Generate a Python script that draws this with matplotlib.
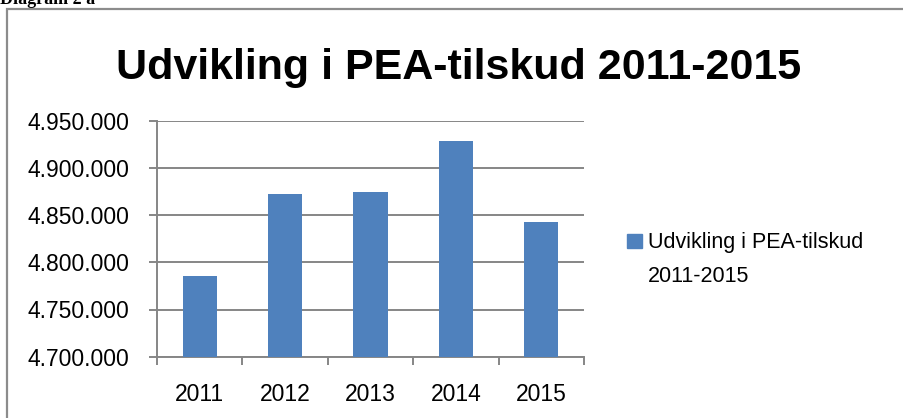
import matplotlib
matplotlib.use('Agg')
import matplotlib.pyplot as plt
from matplotlib.patches import Rectangle
from matplotlib.ticker import FuncFormatter, FixedLocator

# ---- data ----
years = ['2011', '2012', '2013', '2014', '2015']
values = [4785100, 4872700, 4874100, 4928500, 4843000]
y_ticks = [4700000, 4750000, 4800000, 4850000, 4900000, 4950000]
title = 'Udvikling i PEA-tilskud 2011-2015'
legend_lines = ['Udvikling i PEA-tilskud', '2011-2015']
caption = 'Diagram 2 a'

plt.rcParams['font.family'] = ['Liberation Sans', 'DejaVu Sans']

W, H = 904, 418
fig = plt.figure(figsize=(W / 100, H / 100), dpi=100)

def fx(px):
    return px / W

def fy(py):
    return 1 - py / H

# outer chart frame (extends beyond right/bottom edge)
fig.patches.append(Rectangle((fx(7), -0.2), 1.2, fy(8.5) + 0.2,
                             transform=fig.transFigure, fill=False,
                             edgecolor='#8c8c8c', linewidth=1.6))

# caption cut off at top (as in the reference)
fig.text(fx(0), fy(4), caption, fontsize=13, fontweight='bold',
         family=['Liberation Serif'], ha='left', va='baseline')

ax = fig.add_axes([fx(157), fy(356.7), fx(584) - fx(157), fy(120.7) - fy(356.7)])

x = list(range(len(years)))
ax.bar(x, values, width=0.4, color='#4F81BD', zorder=3)

ax.set_xlim(-0.5, len(years) - 0.5)
ax.set_ylim(y_ticks[0], y_ticks[-1])
ax.set_yticks(y_ticks)
ax.yaxis.set_major_formatter(FuncFormatter(lambda v, p: f'{int(v):,}'.replace(',', '.')))
ax.set_xticks(x)
ax.set_xticklabels(years)
ax.xaxis.set_minor_locator(FixedLocator([i - 0.5 for i in range(len(years) + 1)]))

grid_c = '#868686'
ax.grid(axis='y', color=grid_c, linewidth=1.4, zorder=0)
ax.set_axisbelow(True)
for s in ['top', 'right']:
    ax.spines[s].set_visible(False)
for s in ['left', 'bottom']:
    ax.spines[s].set_color(grid_c)
    ax.spines[s].set_linewidth(1.4)

ax.tick_params(axis='y', which='major', length=6, width=1.4, color=grid_c,
               pad=14, labelsize=16.5, direction='out')
ax.tick_params(axis='x', which='major', length=0, pad=19, labelsize=16.5)
ax.tick_params(axis='x', which='minor', length=6, width=1.4, color=grid_c, direction='out')

# title
fig.text(fx(458.5), fy(79.3), title, fontsize=31, fontweight='bold',
         ha='center', va='baseline')

# legend
fig.patches.append(Rectangle((fx(627), fy(248)), fx(15), 14 / H,
                             transform=fig.transFigure, color='#4F81BD'))
fig.text(fx(648), fy(248), legend_lines[0], fontsize=15.5, ha='left', va='baseline')
fig.text(fx(648), fy(282), legend_lines[1], fontsize=15.5, ha='left', va='baseline')

fig.savefig('out.png', dpi=100)
